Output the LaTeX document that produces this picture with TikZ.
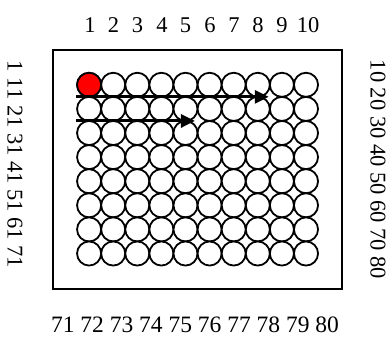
\documentclass[tikz,border=0pt]{standalone}
\usepackage{fontspec}
\setmainfont{Liberation Serif}
\usetikzlibrary{arrows.meta,calc}
\begin{document}
\begin{tikzpicture}[x=1bp,y=-1bp,
  cell/.style={circle,draw=black,line width=1.8bp,minimum size=24.1bp,inner sep=0pt,fill=white},
  redcell/.style={cell,fill=red},
  lbl/.style={inner sep=0pt,font=\fontsize{22.5bp}{26bp}\selectfont},
  blbl/.style={inner sep=0pt,font=\fontsize{23.5bp}{27bp}\selectfont},
  flow/.style={line width=3bp,-{Triangle[length=14bp,width=13bp]}}]
\useasboundingbox (0,0) rectangle (392,347);
\node[draw=black,line width=1.8bp,minimum width=289bp,minimum height=239bp,inner sep=0pt] (frame) at (197.5,169.5) {};
\foreach \j in {1,...,8}{
  \foreach \i in {1,...,10}{
    \node[cell] (c-\i-\j) at ({89.1+24.1*(\i-1)},{84.8+24.1*(\j-1)}) {};
  }
}
\node[redcell] at (c-1-1) {};
\foreach \i/\x in {1/90,2/113.5,3/137.5,4/162,5/185.5,6/210,7/234,8/258,9/282,10/308}{
  \node[lbl] (t\i) at (\x,25) {\i};
}
\node[lbl,rotate=-90] (left) at (15,164.5) {1 11 21 31 41 51 61 71};
\node[lbl,rotate=-90] (right) at (378,169.5) {10 20 30 40 50 60 70 80};
\node[blbl] (bottom) at (195,325) {71 72 73 74 75 76 77 78 79 80};
\coordinate (a1s) at ($(c-1-1.west)!0.5!(c-1-2.west)$);
\coordinate (a1e) at ($(c-8-1.east)!0.5!(c-8-2.east)+(-2,0)$);
\coordinate (a2s) at ($(c-1-2.west)!0.5!(c-1-3.west)$);
\coordinate (a2e) at ($(c-5-2.east)!0.5!(c-5-3.east)+(-3.5,0)$);
\draw[flow] (a1s) -- (a1e);
\draw[flow] (a2s) -- (a2e);
\end{tikzpicture}
\end{document}
